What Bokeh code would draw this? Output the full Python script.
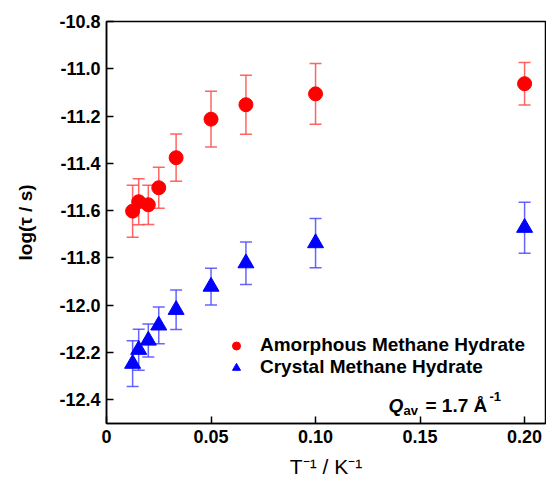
import math
from bokeh.plotting import figure
from bokeh.models import (ColumnDataSource, Whisker, TeeHead, FixedTicker, Label,
                          Legend, LegendItem, Range1d)
from bokeh.embed import file_html
from bokeh.resources import INLINE

# ---------------- data ----------------
inv_T = [0.0125, 0.0154, 0.020, 0.025, 0.0333, 0.050, 0.0667, 0.100, 0.200]
amorph_log_tau = [-11.602, -11.562, -11.575, -11.503, -11.376, -11.213, -11.152, -11.106, -11.063]
amorph_err = [0.110, 0.097, 0.083, 0.087, 0.100, 0.118, 0.125, 0.128, 0.090]
crystal_log_tau = [-12.247, -12.188, -12.149, -12.085, -12.019, -11.921, -11.822, -11.737, -11.672]
crystal_err = [0.097, 0.087, 0.070, 0.078, 0.084, 0.078, 0.090, 0.104, 0.108]

x_ticks = [0.0, 0.05, 0.10, 0.15, 0.20]
x_tick_labels = ["0", "0.05", "0.10", "0.15", "0.20"]
y_ticks = [-10.8, -11.0, -11.2, -11.4, -11.6, -11.8, -12.0, -12.2, -12.4]
y_tick_labels = ["-10.8", "-11.0", "-11.2", "-11.4", "-11.6", "-11.8", "-12.0", "-12.2", "-12.4"]

series_names = ["Amorphous Methane Hydrate", "Crystal Methane Hydrate"]

FONT = "Liberation Sans"
X0, X1 = 0.0, 0.21
Y0, Y1 = -12.5, -10.8
L, R, T, B = 106, 1, 21, 63
W, H = 546, 486

p = figure(width=W, height=H, output_backend="svg", toolbar_location=None,
           x_range=Range1d(X0, X1), y_range=Range1d(Y0, Y1),
           min_border_left=L, min_border_right=R, min_border_top=T, min_border_bottom=B)

fw, fh = W - L - R, H - T - B
def px2x(px):
    return X0 + (px - L) / fw * (X1 - X0)
def py2y(py):
    return Y1 - (py - T) / fh * (Y1 - Y0)

amorph = ColumnDataSource(dict(x=inv_T, y=amorph_log_tau,
                               lo=[v - e for v, e in zip(amorph_log_tau, amorph_err)],
                               hi=[v + e for v, e in zip(amorph_log_tau, amorph_err)]))
crystal = ColumnDataSource(dict(x=inv_T, y=crystal_log_tau,
                                lo=[v - e for v, e in zip(crystal_log_tau, crystal_err)],
                                hi=[v + e for v, e in zip(crystal_log_tau, crystal_err)]))

for src, col in ((amorph, "#ff4a4a"), (crystal, "#4a4aff")):
    wk = Whisker(source=src, base="x", upper="hi", lower="lo", dimension="height",
                 line_color=col, line_width=1.5, line_alpha=0.85, level="underlay",
                 upper_head=TeeHead(size=12, line_color=col, line_width=1.5, line_alpha=0.85),
                 lower_head=TeeHead(size=12, line_color=col, line_width=1.5, line_alpha=0.85))
    p.add_layout(wk)

r1 = p.scatter("x", "y", source=amorph, marker="circle", size=14,
               fill_color="#ff0000", line_color="#ff0000")
r2 = p.scatter("x", "y", source=crystal, marker="triangle", size=16,
               fill_color="#0000ff", line_color="#0000ff")

legend = Legend(items=[LegendItem(label=series_names[0], renderers=[r1]),
                       LegendItem(label=series_names[1], renderers=[r2])],
                location=(120, 45), border_line_color=None, background_fill_alpha=0,
                padding=0, margin=0, spacing=0, glyph_width=20, glyph_height=21,
                label_standoff=14, label_text_font=FONT, label_text_font_style="bold",
                label_text_font_size="19px", label_text_color="black")
p.add_layout(legend)

# axes
p.grid.visible = False
p.outline_line_color = "black"
p.outline_line_width = 1.5
p.outline_line_alpha = 1.0
for ax in (p.xaxis[0], p.yaxis[0]):
    ax.axis_line_width = 1.5
    ax.axis_line_color = "black"
    ax.major_tick_in = 7
    ax.major_tick_out = 0
    ax.major_tick_line_width = 1.5
    ax.minor_tick_line_color = None
    ax.major_label_text_font = FONT
    ax.major_label_text_font_style = "bold"
    ax.major_label_text_font_size = "18px"
    ax.major_label_text_color = "black"
    ax.major_label_standoff = 6
    ax.axis_label_text_font = FONT
    ax.axis_label_text_color = "black"
    ax.axis_label_text_font_size = "19px"
p.xaxis.ticker = FixedTicker(ticks=x_ticks)
p.xaxis.major_label_overrides = dict(zip(x_ticks, x_tick_labels))
p.yaxis.ticker = FixedTicker(ticks=y_ticks)
p.yaxis.major_label_overrides = dict(zip(y_ticks, y_tick_labels))

# axis titles through the axes themselves
p.yaxis.axis_label = "log(\u03c4 / s)"
p.yaxis.axis_label_text_font_style = "bold"
p.yaxis.axis_label_standoff = 20
p.xaxis.axis_label = "T\u207b\u00b9 / K\u207b\u00b9"
p.xaxis.axis_label_text_font_style = "normal"
p.xaxis.axis_label_text_font_size = "21px"
p.xaxis.axis_label_standoff = 9

def lab(text, px, py, size, style="normal", **kw):
    p.add_layout(Label(x=px2x(px), y=py2y(py), text=text, text_font=FONT,
                       text_font_size=f"{size}px", text_font_style=style,
                       text_color="black", **kw))

# Q_av = 1.7 Å^-1
lab("Q", 388, 405, 19, "bold italic", text_baseline="alphabetic")
lab("av", 403, 410, 13, "bold", text_baseline="alphabetic")
lab("= 1.7 \u00c5", 425, 405, 19, "bold", text_baseline="alphabetic")
lab("-1", 489, 396, 13, "bold", text_baseline="alphabetic")

open("out.html", "w").write(file_html(p, INLINE))
